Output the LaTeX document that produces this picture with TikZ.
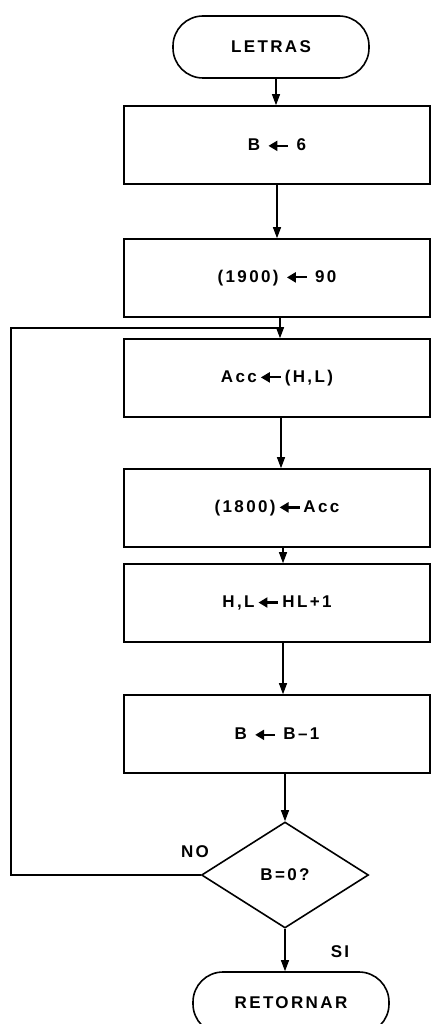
\documentclass[tikz,border=0pt]{standalone}
\usepackage{fontspec}
\setmainfont{Liberation Sans}
\newfontfamily\labfont[LetterSpace=14]{Liberation Sans}
\usetikzlibrary{arrows.meta,shapes.geometric}
\newcommand\la{\tikz[baseline=-5pt]\draw[line width=2.2pt,{Triangle[width=10pt,length=9pt]}-] (0pt,0pt) -- (20pt,0pt);}
\begin{document}
\begin{tikzpicture}[x=1pt,y=-1pt,
  every node/.style={font=\labfont\bfseries\fontsize{17}{19}\selectfont},
  stepbox/.style={draw, line width=1.6pt, minimum width=306pt, minimum height=78pt, inner sep=0pt},
  term/.style={draw, line width=1.6pt, rounded corners=30pt, minimum width=196pt, minimum height=62pt, inner sep=0pt},
  decis/.style={draw, diamond, line width=1.6pt, minimum width=167pt, minimum height=106pt, inner sep=0pt},
  conn/.style={line width=1.1pt, -{Triangle[width=8pt,length=11pt]}},
  plain/.style={line width=1.3pt}]
\useasboundingbox (0,0) rectangle (434,1024);
\fill[white] (0,0) rectangle (434,1024);
\node[term] (start) at (271,47) {LETRAS};
\node[stepbox] (b1) at (277,145) {B \la\ 6};
\node[stepbox] (b2) at (277,278) {(1900) \la\ 90};
\node[stepbox] (b3) at (277,378) {Acc\,\la\,(H,L)};
\node[stepbox] (b4) at (277,508) {(1800)\,\la\,Acc};
\node[stepbox] (b5) at (277,603) {H,L\,\la\,HL+1};
\node[stepbox] (b6) at (277,734) {B \la\ B–1};
\node[decis] (d) at (285,875) {B=0?};
\node[term] (ret) at (291,1003) {RETORNAR};
\node (no) at (195,852) {NO};
\node (si) at (340,952) {SI};
\coordinate (lbot) at (11,875);
\coordinate (ltop) at (11,328);
\coordinate (lin) at (280,328);
\draw[conn] (start.south -| 276,0) -- (b1.north -| 276,0);
\draw[conn] (b1.south -| 277,0) -- (b2.north -| 277,0);
\draw[conn] (b2.south -| 280,0) -- (b3.north -| 280,0);
\draw[conn] (b3.south -| 281,0) -- (b4.north -| 281,0);
\draw[conn] (b4.south -| 283,0) -- (b5.north -| 283,0);
\draw[conn] (b5.south -| 283,0) -- (b6.north -| 283,0);
\draw[conn] (b6.south -| 285,0) -- (d.north);
\draw[conn] (d.south) -- (ret.north -| d.south);
\draw[plain] (d.west) -- (lbot) -- (ltop) -- (lin);
\end{tikzpicture}
\end{document}
